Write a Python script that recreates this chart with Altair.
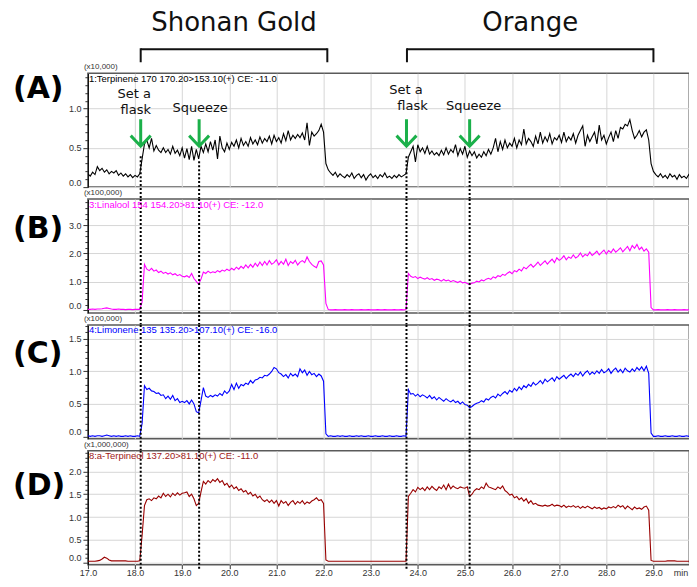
import altair as alt
import pandas as pd

STEP = 0.05
X_DOMAIN = [17.0, 29.76]

# ---------------- trace data (segments: start time, values every 0.05 min) ----------------
terpinene_segments = [
    (17.00, [0.17, 0.14, 0.19, 0.16, 0.26, 0.21, 0.24, 0.19, 0.22, 0.17, 0.20, 0.18, 0.21, 0.15, 0.18,
             0.14, 0.17, 0.13, 0.16, 0.12, 0.15, 0.13, 0.17]),
    (18.15, [0.36,
             0.55, 0.60, 0.50, 0.62, 0.46, 0.53, 0.47, 0.44, 0.50, 0.44,
             0.48, 0.42, 0.52, 0.43, 0.47, 0.40, 0.50, 0.37, 0.49, 0.35,
             0.52, 0.34, 0.48, 0.36, 0.52, 0.44, 0.55, 0.45, 0.58, 0.47,
             0.60, 0.36, 0.65, 0.50, 0.45, 0.56, 0.48, 0.57, 0.52, 0.60,
             0.50, 0.62, 0.53, 0.58, 0.52, 0.63, 0.55, 0.60, 0.54, 0.64,
             0.56, 0.62, 0.58, 0.65, 0.55, 0.66, 0.58, 0.63, 0.56, 0.68,
             0.59, 0.72, 0.60, 0.66, 0.62, 0.67, 0.63, 0.69, 0.60, 0.82,
             0.53, 0.70, 0.65, 0.68, 0.72, 0.80, 0.70,
             0.30]),
    (22.10, [0.22, 0.18, 0.15, 0.19, 0.13, 0.17, 0.14, 0.12, 0.16, 0.13,
             0.18, 0.11, 0.15, 0.17, 0.12, 0.16, 0.09, 0.14, 0.17, 0.12,
             0.15, 0.11, 0.16, 0.13, 0.18, 0.12, 0.14, 0.11, 0.15, 0.12,
             0.16, 0.13, 0.15, 0.17]),
    (23.80, [0.38, 0.45, 0.52, 0.32, 0.54, 0.45, 0.50, 0.43, 0.52, 0.42,
             0.46, 0.41, 0.44, 0.40, 0.47, 0.41, 0.50, 0.42, 0.48, 0.44,
             0.54, 0.40, 0.49, 0.42, 0.52, 0.38, 0.46, 0.40, 0.45, 0.37,
             0.42, 0.38, 0.45, 0.40, 0.48, 0.42, 0.50, 0.62, 0.45, 0.58,
             0.48, 0.60, 0.50, 0.56, 0.52, 0.62, 0.50, 0.60, 0.54, 0.74,
             0.55, 0.62, 0.58, 0.52, 0.65, 0.55, 0.70, 0.56, 0.64, 0.58,
             0.68, 0.55, 0.63, 0.60, 0.66, 0.57, 0.70, 0.58, 0.64, 0.60,
             0.68, 0.56, 0.66, 0.72, 0.78, 0.52, 0.66, 0.58, 0.64, 0.70,
             0.55, 0.79, 0.60, 0.66, 0.55, 0.63, 0.70, 0.58, 0.72, 0.62,
             0.76, 0.74, 0.80, 0.78, 0.86, 0.72, 0.62, 0.66, 0.72, 0.64,
             0.70, 0.73, 0.60, 0.30]),
    (29.00, [0.20, 0.16, 0.13, 0.17, 0.12, 0.15, 0.11, 0.17, 0.13, 0.15,
             0.10, 0.16, 0.12, 0.14, 0.11, 0.16, 0.12, 0.14, 0.13]),
]

linalool_segments = [
    (17.00, [0.04, 0.04, 0.05, 0.04, 0.05, 0.05, 0.06, 0.08, 0.09, 0.07, 0.05, 0.04, 0.04, 0.05, 0.04,
             0.04, 0.03, 0.04, 0.04, 0.03, 0.04, 0.04, 0.04]),
    (18.15, [0.30,
             1.62, 1.45, 1.40, 1.48, 1.38, 1.42, 1.33, 1.38, 1.30, 1.34,
             1.28, 1.32, 1.25, 1.29, 1.22, 1.26, 1.20, 1.18, 1.22, 1.16,
             1.30, 1.12, 1.02, 0.92, 1.10, 1.35, 1.30, 1.38, 1.32, 1.36,
             1.33, 1.40, 1.35, 1.42, 1.38, 1.45, 1.40, 1.48, 1.42, 1.52,
             1.45, 1.55, 1.48, 1.60, 1.50, 1.62, 1.52, 1.66, 1.55, 1.70,
             1.58, 1.72, 1.60, 1.75, 1.62, 1.68, 1.78, 1.60, 1.72, 1.62,
             1.80, 1.58, 1.72, 1.65, 1.76, 1.60, 1.70, 1.75, 1.68, 1.88,
             1.72, 1.62, 1.55, 1.50, 1.72, 1.74, 1.60,
             0.25]),
    (22.10, [0.03, 0.02, 0.02, 0.03, 0.02, 0.02, 0.02, 0.03, 0.02, 0.02,
             0.03, 0.02, 0.02, 0.02, 0.03, 0.02, 0.02, 0.03, 0.02, 0.02,
             0.02, 0.03, 0.02, 0.02, 0.03, 0.02, 0.02, 0.02, 0.03, 0.02,
             0.02, 0.03, 0.02, 0.03]),
    (23.80, [1.30, 1.20, 1.16, 1.19, 1.12, 1.17, 1.13, 1.10, 1.15, 1.09,
             1.12, 1.06, 1.10, 1.08, 1.03, 1.09, 1.04, 1.07, 1.01, 1.05,
             1.02, 0.98, 1.03, 0.97, 0.99, 0.95, 0.91, 0.96, 0.97, 1.03,
             1.00, 1.07, 1.04, 1.10, 1.13, 1.09, 1.18, 1.14, 1.22, 1.19,
             1.27, 1.23, 1.31, 1.36, 1.29, 1.40, 1.36, 1.45, 1.39, 1.52,
             1.46, 1.55, 1.62, 1.52, 1.60, 1.70, 1.58, 1.66, 1.74, 1.63,
             1.72, 1.80, 1.68, 1.85, 1.76, 1.82, 1.92, 1.78, 1.88, 1.83,
             1.95, 1.84, 1.90, 2.02, 1.88, 1.97, 1.92, 2.05, 1.93, 2.00,
             2.08, 1.95, 2.04, 2.12, 1.98, 2.10, 2.03, 2.16, 2.05, 2.12,
             2.20, 2.06, 2.15, 2.25, 2.10, 2.28, 2.18, 2.32, 2.14, 2.22,
             2.08, 2.16, 2.05, 0.10]),
    (29.00, [0.02, 0.02, 0.03, 0.02, 0.02, 0.02, 0.03, 0.02, 0.02, 0.03,
             0.02, 0.02, 0.02, 0.03, 0.02, 0.02, 0.02, 0.02, 0.02]),
]

limonene_segments = [
    (17.00, [0.01, 0.00, 0.01, 0.00, 0.01, 0.01, 0.00, 0.01, 0.02, 0.01, 0.00, 0.01, 0.00, 0.01, 0.00,
             0.00, 0.01, 0.00, 0.01, 0.00, 0.00, 0.01, 0.00]),
    (18.15, [0.20,
             0.78, 0.72, 0.74, 0.70, 0.69, 0.66, 0.67, 0.63, 0.64, 0.58,
             0.62, 0.57, 0.63, 0.55, 0.58, 0.52, 0.54, 0.52, 0.55, 0.50,
             0.56, 0.50, 0.38, 0.36, 0.55, 0.75, 0.62, 0.60, 0.63, 0.61,
             0.64, 0.62, 0.66, 0.63, 0.70, 0.66, 0.70, 0.80, 0.72, 0.82,
             0.74, 0.80, 0.78, 0.82, 0.80, 0.86, 0.82, 0.87, 0.88, 0.91,
             0.90, 0.94, 0.93, 0.96, 1.00, 1.06, 1.04, 0.98, 0.96, 0.92,
             0.95, 0.90, 0.97, 0.93, 0.96, 0.92, 1.04, 0.98, 1.02, 0.94,
             1.00, 0.95, 0.97, 0.92, 0.96, 0.93, 0.85,
             0.04]),
    (22.10, [0.00, 0.01, 0.00, 0.00, 0.01, 0.00, 0.01, 0.00, 0.00, 0.01,
             0.00, 0.00, 0.01, 0.00, 0.01, 0.00, 0.00, 0.01, 0.00, 0.00,
             0.01, 0.00, 0.00, 0.01, 0.00, 0.00, 0.01, 0.00, 0.00, 0.01,
             0.00, 0.00, 0.01, 0.00]),
    (23.80, [0.72, 0.65, 0.66, 0.62, 0.65, 0.61, 0.64, 0.62, 0.59, 0.63,
             0.58, 0.61, 0.56, 0.60, 0.57, 0.54, 0.58, 0.55, 0.53, 0.56,
             0.52, 0.54, 0.50, 0.53, 0.49, 0.48, 0.44, 0.46, 0.49, 0.51,
             0.52, 0.55, 0.53, 0.58, 0.56, 0.60, 0.62, 0.59, 0.65, 0.62,
             0.66, 0.69, 0.65, 0.71, 0.68, 0.74, 0.70, 0.76, 0.72, 0.78,
             0.75, 0.80, 0.77, 0.83, 0.79, 0.82, 0.86, 0.81, 0.88, 0.84,
             0.87, 0.90, 0.85, 0.92, 0.88, 0.91, 0.94, 0.89, 0.93, 0.96,
             0.92, 0.97, 0.94, 0.99, 0.93, 0.98, 1.01, 0.95, 0.99, 0.96,
             1.01, 0.97, 1.03, 0.98, 1.00, 1.04, 0.97, 1.02, 1.05, 0.99,
             1.03, 0.98, 1.05, 1.01, 0.99, 1.04, 1.00, 1.06, 1.02, 1.07,
             1.01, 1.08, 0.97, 0.05]),
    (29.00, [0.00, 0.00, 0.01, 0.00, 0.00, 0.01, 0.00, 0.00, 0.01, 0.00,
             0.00, 0.01, 0.00, 0.00, 0.01, 0.00, 0.00, 0.00, 0.01]),
]

terpineol_segments = [
    (17.00, [0.03, 0.03, 0.03, 0.03, 0.04, 0.05, 0.08, 0.12, 0.10, 0.06, 0.04, 0.04, 0.04, 0.04, 0.04,
             0.04, 0.04, 0.03, 0.03, 0.03, 0.03, 0.03, 0.04]),
    (18.15, [0.60,
             1.25, 1.38, 1.40, 1.36, 1.42, 1.40, 1.46, 1.42, 1.52, 1.45,
             1.50, 1.44, 1.52, 1.47, 1.53, 1.48, 1.52, 1.53, 1.55, 1.45,
             1.50, 1.40, 1.25, 1.30, 1.55, 1.78, 1.72, 1.80, 1.75, 1.82,
             1.78, 1.84, 1.76, 1.80, 1.70, 1.74, 1.65, 1.70, 1.62, 1.66,
             1.58, 1.62, 1.55, 1.58, 1.50, 1.54, 1.46, 1.50, 1.42, 1.46,
             1.38, 1.34, 1.38, 1.32, 1.37, 1.30, 1.36, 1.24, 1.36, 1.30,
             1.34, 1.25, 1.32, 1.36, 1.28, 1.34, 1.30, 1.36, 1.28, 1.33,
             1.30, 1.35, 1.38, 1.42, 1.36, 1.38, 1.30,
             0.06]),
    (22.10, [0.03, 0.03, 0.03, 0.03, 0.03, 0.03, 0.03, 0.03, 0.03, 0.03,
             0.03, 0.03, 0.03, 0.03, 0.03, 0.03, 0.03, 0.03, 0.03, 0.03,
             0.03, 0.03, 0.03, 0.03, 0.03, 0.03, 0.03, 0.03, 0.03, 0.03,
             0.03, 0.03, 0.03, 0.03]),
    (23.80, [1.45, 1.52, 1.60, 1.55, 1.65, 1.60, 1.64, 1.58, 1.66, 1.60,
             1.67, 1.62, 1.58, 1.66, 1.62, 1.70, 1.60, 1.72, 1.62, 1.68,
             1.64, 1.62, 1.66, 1.64, 1.63, 1.66, 1.45, 1.50, 1.58, 1.62,
             1.60, 1.66, 1.62, 1.74, 1.66, 1.64, 1.62, 1.60, 1.66, 1.62,
             1.68, 1.58, 1.54, 1.48, 1.50, 1.42, 1.45, 1.38, 1.42, 1.35,
             1.40, 1.30, 1.36, 1.28, 1.30, 1.26, 1.25, 1.24, 1.26, 1.24,
             1.25, 1.28, 1.24, 1.26, 1.25, 1.22, 1.26, 1.21, 1.24, 1.22,
             1.25, 1.21, 1.24, 1.19, 1.23, 1.20, 1.24, 1.21, 1.18, 1.22,
             1.19, 1.21, 1.17, 1.20, 1.18, 1.22, 1.20, 1.23, 1.20, 1.26,
             1.22, 1.25, 1.18, 1.24, 1.20, 1.16, 1.22, 1.18, 1.20, 1.17,
             1.22, 1.24, 1.15, 0.05]),
    (29.00, [0.03, 0.03, 0.03, 0.03, 0.03, 0.03, 0.04, 0.04, 0.04, 0.04,
             0.03, 0.03, 0.03, 0.03, 0.03, 0.03, 0.03, 0.03, 0.03]),
]

# ---------------- events and annotations ----------------
set_flask_times = [18.12, 23.76]
squeeze_times = [19.36, 25.10]
sample_names = ["Shonan Gold", "Orange"]
sample_starts = [18.12, 23.77]
sample_ends = [22.08, 29.00]

headers = [
    "1:Terpinene 170 170.20>153.10(+) CE: -11.0",
    "3:Linalool 154 154.20>81.10(+) CE: -12.0",
    "4:Limonene 135 135.20>107.10(+) CE: -16.0",
    "8:a-Terpineol 137.20>81.10(+) CE: -11.0",
]
scale_labels = ["(x10,000)", "(x100,000)", "(x100,000)", "(x1,000,000)"]
panel_labels = ["(A)", "(B)", "(C)", "(D)"]
x_tick_labels = [17.0, 18.0, 19.0, 20.0, 21.0, 22.0, 23.0, 24.0, 25.0, 26.0, 27.0, 28.0, 29.0]

W, H = 602, 114
GAP = 12
FONT = "Liberation Sans"
AFONT = "DejaVu Sans"
GREEN = "#1bb04a"


def to_frame(segments):
    t, v = [], []
    for start, vals in segments:
        for i, val in enumerate(vals):
            t.append(round(start + STEP * i, 3))
            v.append(val)
    return pd.DataFrame({"t": t, "v": v})


def major_test(step):
    return f"abs(datum.value / {step} - round(datum.value / {step})) < 0.001"


def y_axis(top, minor, major):
    n = int(round(top / minor))
    vals = [round(i * minor, 3) for i in range(n + 1)]
    test = major_test(major)
    return alt.Axis(
        values=vals, title=None, grid=True,
        labelExpr=f"{test} ? format(datum.value, '.1f') : ''",
        tickSize={"condition": {"test": test, "value": 5}, "value": 3},
        gridOpacity={"condition": {"test": test, "value": 1}, "value": 0},
        labelFlush=5, labelOverlap=False, labelPadding=2,
    )


x_scale = alt.Scale(domain=X_DOMAIN, nice=False, zero=False)
x_axis_plain = alt.Axis(values=x_tick_labels, labels=False, ticks=False, domain=False,
                        grid=True, title=None)
x_minor_vals = [round(17.0 + 0.25 * i, 2) for i in range(52)]
x_test = major_test(1)
x_axis_bottom = alt.Axis(
    values=x_minor_vals, title=None, grid=True, domain=False,
    labelExpr=f"{x_test} ? format(datum.value, '.1f') : ''",
    tickSize={"condition": {"test": x_test, "value": 4}, "value": 2},
    gridOpacity={"condition": {"test": x_test, "value": 1}, "value": 0},
    labelFlush=False, labelOverlap=False, labelPadding=0,
)


def text_layer(txt, x, y, size, color="black", font=FONT, weight="normal", align="left"):
    return alt.Chart(pd.DataFrame({"label": [txt]})).mark_text(
        font=font, fontSize=size, color=color, fontWeight=weight, align=align, baseline="middle"
    ).encode(text="label:N", x=alt.value(x), y=alt.value(y))


def event_rules(times, y0, y1):
    return alt.Chart(pd.DataFrame({"t": times})).mark_rule(
        color="black", strokeWidth=2, strokeDash=[2, 2]
    ).encode(x=alt.X("t:Q"), y=alt.value(y0), y2=alt.value(y1))


def panel(idx, segments, color, hdr_color, ydom, minor, major, top_tick, rule_y0, rule_y1,
          label_y, last=False, extra=None):
    df = to_frame(segments)
    line = alt.Chart(df).mark_line(color=color, strokeWidth=1.1, clip=True).encode(
        x=alt.X("t:Q", scale=x_scale, axis=x_axis_bottom if last else x_axis_plain),
        y=alt.Y("v:Q", scale=alt.Scale(domain=ydom, nice=False, zero=False),
                axis=y_axis(top_tick, minor, major)),
    )
    layers = [line,
              event_rules(set_flask_times, rule_y0[0], rule_y1),
              event_rules(squeeze_times, rule_y0[1], rule_y1),
              text_layer(headers[idx], 1, 5.5, 9.5, hdr_color),
              text_layer(scale_labels[idx], -4, -6, 8, "#333"),
              text_layer(panel_labels[idx], -75, label_y, 30, "black", AFONT, "bold")]
    if extra:
        layers += extra
    if last:
        layers.append(text_layer("min", W - 1, H + 8.5, 9, "#333", FONT, "normal", "right"))
    return alt.layer(*layers).properties(width=W, height=H)


# ---------- annotations for panel A ----------
arrow_path = "M0,-1L0,0.92M-0.74,0.22L0,1L0.74,0.22"
ev_all = pd.DataFrame({"t": set_flask_times + squeeze_times})
arrows = alt.Chart(ev_all).mark_point(
    shape=arrow_path, size=729, filled=False, color=GREEN, strokeWidth=3, opacity=1
).encode(x=alt.X("t:Q"), y=alt.value(59.5))

ann = []
label_specs = [  # (text, event time, dx, y)
    ("Set a", set_flask_times[0], -6.5, 21), ("flask", set_flask_times[0], -5, 37),
    ("Squeeze", squeeze_times[0], 1, 35),
    ("Set a", set_flask_times[1], -0.5, 17), ("flask", set_flask_times[1], 6, 33),
    ("Squeeze", squeeze_times[1], 4, 33),
]
for txt, tm, dx, yy in label_specs:
    ann.append(alt.Chart(pd.DataFrame({"t": [tm], "label": [txt]})).mark_text(
        font=AFONT, fontSize=13, color="#111", dx=dx, baseline="middle"
    ).encode(x=alt.X("t:Q"), y=alt.value(yy), text="label:N"))

samples = pd.DataFrame({"name": sample_names, "start": sample_starts, "end": sample_ends})
sample_titles = alt.Chart(samples).transform_calculate(
    mid="(datum.start + datum.end) / 2"
).mark_text(font=AFONT, fontSize=26, color="#111", baseline="middle").encode(
    x=alt.X("mid:Q"), y=alt.value(-50), text="name:N")
bracket_h = alt.Chart(samples).mark_rule(color="#111", strokeWidth=2).encode(
    x=alt.X("start:Q"), x2="end:Q", y=alt.value(-24))
bracket_l = alt.Chart(samples).mark_rule(color="#111", strokeWidth=2).encode(
    x=alt.X("start:Q"), y=alt.value(-25), y2=alt.value(-11))
bracket_r = alt.Chart(samples).mark_rule(color="#111", strokeWidth=2).encode(
    x=alt.X("end:Q"), y=alt.value(-25), y2=alt.value(-11))

pA = panel(0, terpinene_segments, "black", "black", [0.0, 1.45], 0.1, 0.5, 1.4,
           (83, 88), H + GAP, 16,
           extra=[arrows] + ann + [sample_titles, bracket_h, bracket_l, bracket_r])
pB = panel(1, linalool_segments, "#ff00ff", "#ff00ff", [-0.088, 3.91], 0.2, 1.0, 3.8,
           (0, 0), H + GAP, 30)
pC = panel(2, limonene_segments, "#0000ff", "#0000ff", [-0.038, 1.715], 0.1, 0.5, 1.7,
           (0, 0), H + GAP, 29)
pD = panel(3, terpineol_segments, "#990000", "#a01818", [-0.044, 2.45], 0.1, 0.5, 2.4,
           (0, 0), H + 4, 35, last=True)

chart = alt.vconcat(pA, pB, pC, pD, spacing=GAP, bounds="flush").properties(
    padding={"left": 4, "top": 1, "right": -1.25, "bottom": 0},
).configure_view(
    stroke="#5a5a5a", strokeWidth=1.5
).configure_axis(
    domainColor="black", domainWidth=1, tickColor="#333", labelColor="#333",
    labelFont=FONT, labelFontSize=9, gridColor="#d6d6d6", gridWidth=1,
)

chart.save("out.html", embed_options={"renderer": "svg", "actions": False})
